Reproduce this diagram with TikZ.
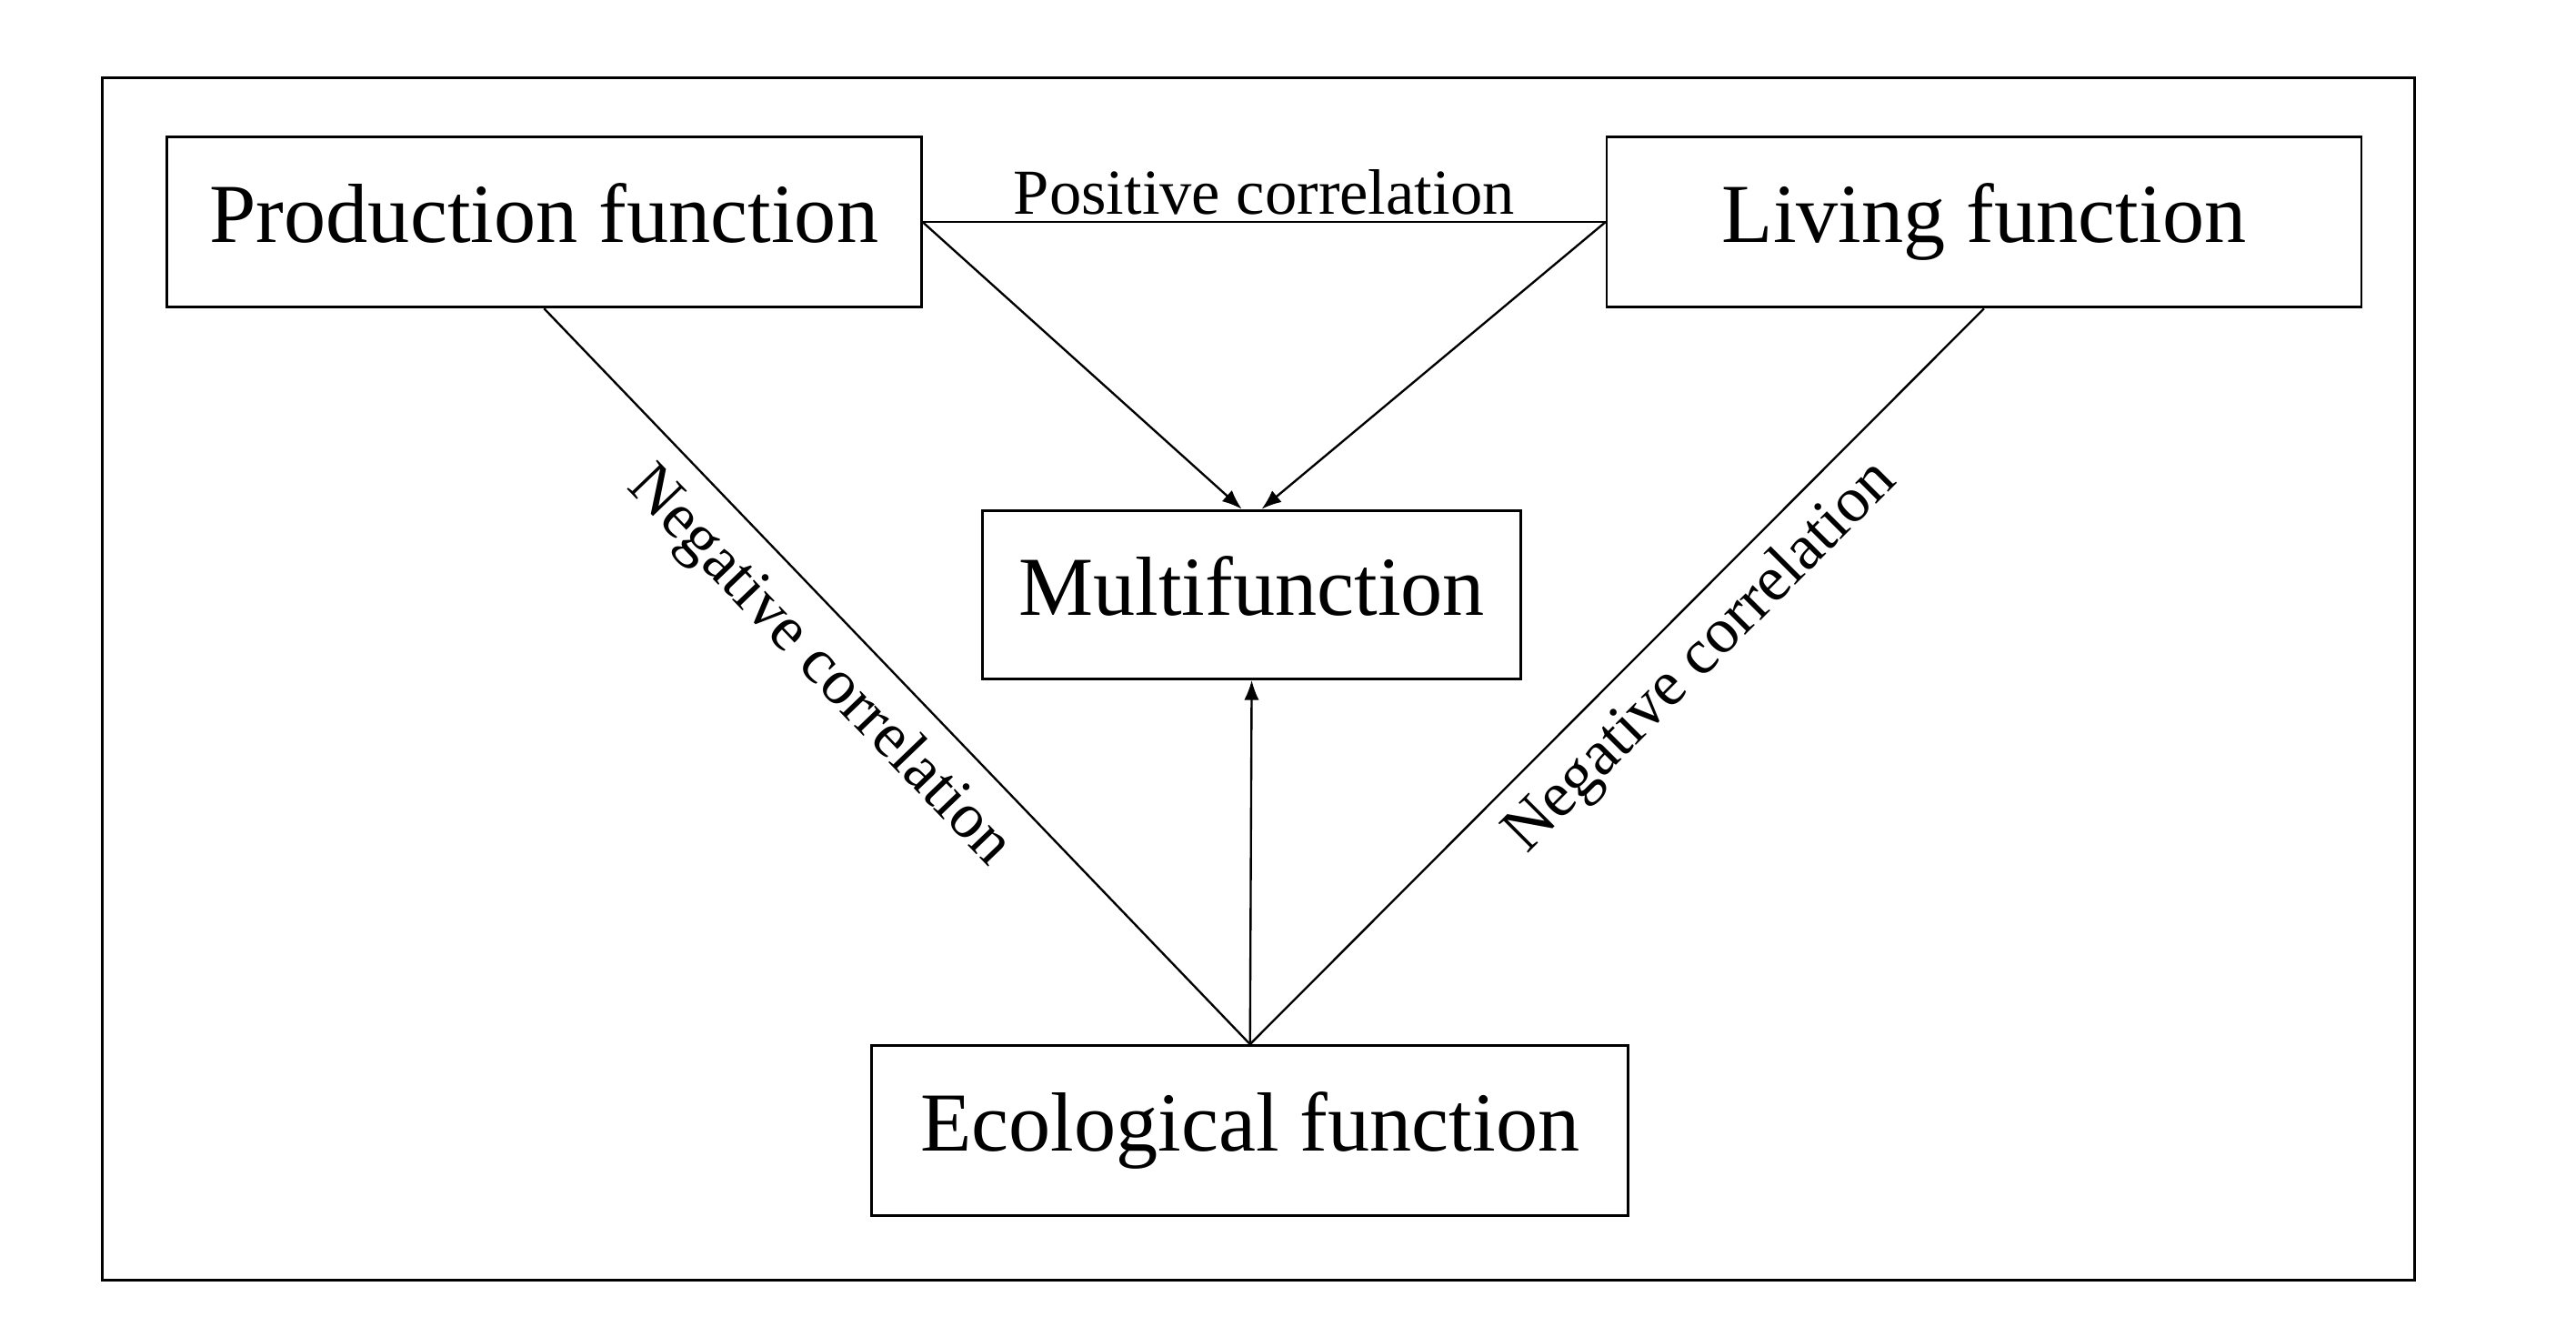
\documentclass[tikz,border=0pt]{standalone}
\usepackage{fontspec}
\setmainfont{Liberation Serif}
\usetikzlibrary{arrows.meta}
\begin{document}
\begin{tikzpicture}[x=1bp,y=-1bp,
  box/.style={draw,line width=1.6bp,minimum height=103bp,font=\fontsize{51}{56}\selectfont,inner sep=0,text height=36bp,text depth=11bp},
  lbl/.style={font=\fontsize{39}{44}\selectfont,inner sep=2bp},
  ln/.style={line width=1.3bp},
  arr/.style={ln,-{Latex[length=12bp,width=9bp]}}]
\useasboundingbox (0,0) rectangle (1560,797);
\draw[line width=1.6bp] (62,47) rectangle (1462,775);
\node[box,minimum width=457bp] (p) at (329.5,134.5) {Production function};
\node[box,minimum width=457bp] (l) at (1201.5,134.5) {Living function};
\node[box,minimum width=326bp,minimum height=102bp] (m) at (758,360) {Multifunction};
\node[box,minimum width=458bp] (e) at (757,684.5) {Ecological function};
\draw[ln] (p.east) -- node[lbl,above=2bp]{Positive correlation} (l.west);
\draw[arr] (p.east) -- ([xshift=-6bp]m.north);
\draw[arr] (l.west) -- ([xshift=6bp]m.north);
\draw[arr] (e.north) -- (m.south);
\draw[ln] (p.south) -- node[lbl,sloped,below=10bp,pos=0.44]{Negative correlation} (e.north);
\draw[ln] (e.north) -- node[lbl,sloped,below=8bp,pos=0.57]{Negative correlation} (l.south);
\end{tikzpicture}
\end{document}
